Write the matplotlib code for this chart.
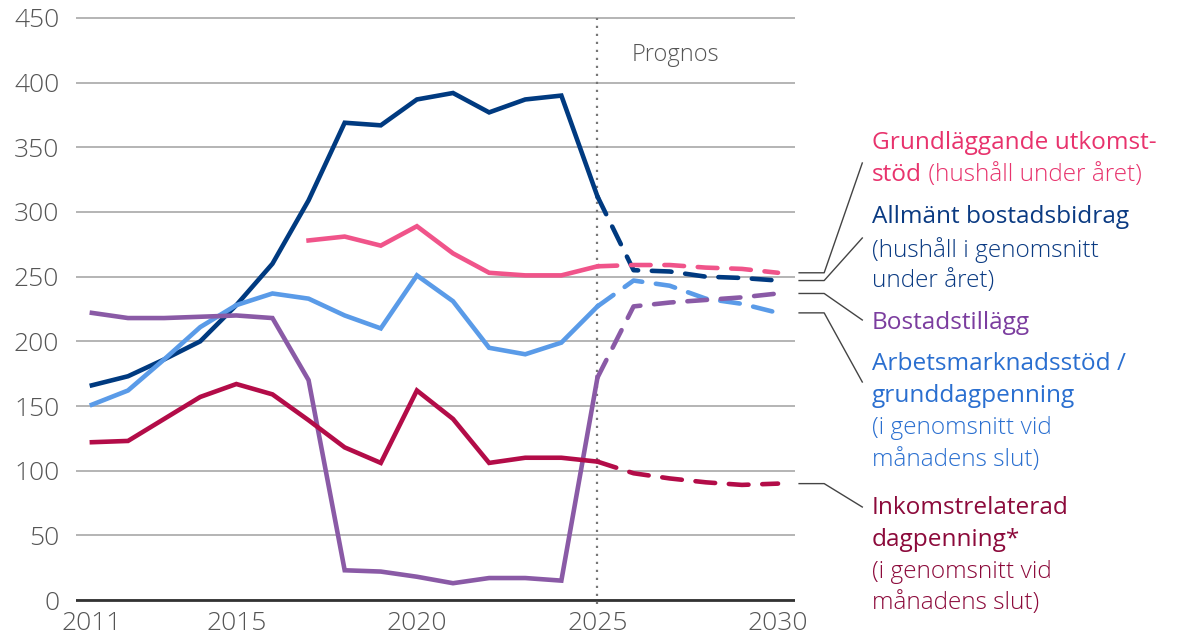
import matplotlib
matplotlib.use('Agg')
import matplotlib.pyplot as plt

# Data (thousands)
years = list(range(2011, 2031))
bostadsbidrag = [166, 173, 186, 200, 228, 260, 309, 369, 367, 387, 392, 377, 387, 390, 312, 255, 254, 250, 249, 247]
utkomst_years = list(range(2017, 2031))
utkomststod = [278, 281, 274, 289, 268, 253, 251, 251, 258, 259, 259, 257, 256, 253]
arbetsmarknad = [151, 162, 186, 211, 228, 237, 233, 220, 210, 251, 231, 195, 190, 199, 227, 247, 243, 233, 229, 222]
bostadstillagg = [222, 218, 218, 219, 220, 218, 170, 23, 22, 18, 13, 17, 17, 15, 172, 227, 230, 232, 234, 237]
inkomstrelaterad = [122, 123, 140, 157, 167, 159, 139, 118, 106, 162, 140, 106, 110, 110, 107, 98, 94, 91, 89, 90]
prognos_year = 2025
x_ticks = [2011, 2015, 2020, 2025, 2030]
y_ticks = list(range(0, 451, 50))

FONT = 'Open Sans'
GREY = '#555555'

fig = plt.figure(figsize=(11.84, 6.4), dpi=100)
ax = fig.add_axes([76 / 1184, 1 - 603.9 / 640, (795 - 76) / 1184, (603.9 - 14.1) / 640])
ax.set_xlim(2010.56, 2030.47)
ax.set_ylim(-3, 453)

for s in ax.spines.values():
    s.set_visible(False)

ax.set_yticks(y_ticks)
ax.set_xticks(x_ticks)
ax.tick_params(length=0, labelsize=19, labelcolor=GREY)
ax.tick_params(axis='y', pad=12)
ax.tick_params(axis='x', pad=5)
for lab in ax.get_xticklabels() + ax.get_yticklabels():
    lab.set_fontfamily(FONT)
    lab.set_fontweight('light')
ax.grid(axis='y', color='#a0a0a0', lw=1.1)
ax.set_axisbelow(True)
ax.axhline(0, color='#333333', lw=2)

# Prognos marker
ax.axvline(prognos_year, ymin=0, ymax=(450 + 3) / 456, color='#777777', lw=1.6, ls=(0, (1, 2.6)))
ax.text(2027.17, 421, 'Prognos', ha='center', va='center', fontsize=17,
        color=GREY, family=FONT, fontweight='light')

series = [
    (years, bostadsbidrag, '#003a80'),
    (utkomst_years, utkomststod, '#f0548a'),
    (years, arbetsmarknad, '#5a9be8'),
    (years, bostadstillagg, '#8a5aa6'),
    (years, inkomstrelaterad, '#b30c48'),
]
lw = 3.3
for xs, ys, c in series:
    hist_x = [x for x in xs if x <= prognos_year]
    hist_y = [y for x, y in zip(xs, ys) if x <= prognos_year]
    fc_x = [x for x in xs if x >= prognos_year]
    fc_y = [y for x, y in zip(xs, ys) if x >= prognos_year]
    ax.plot(hist_x, hist_y, color=c, lw=lw, solid_joinstyle='miter', zorder=3)
    ax.plot(fc_x, fc_y, color=c, lw=lw, dashes=(4.3, 3.0), dash_capstyle='round', zorder=3)

# Leader lines: start at line end, go right, then angle to the label
def px_to_y(py):
    return (600 - py) / 1.2933

def px_to_x(px):
    return 2011 + (px - 92) / 36.0

leaders = [
    (utkomststod[-1], 163),
    (bostadsbidrag[-1], 238),
    (bostadstillagg[-1], 320),
    (arbetsmarknad[-1], 382),
    (inkomstrelaterad[-1], 507),
]
for v, ty in leaders:
    ax.plot([px_to_x(797), px_to_x(822), px_to_x(860)], [v, v, px_to_y(ty)],
            color='#444444', lw=1, clip_on=False, zorder=2)

# Labels
TX = 872 / 1184

def label(py, s, color, weight='normal', x=TX):
    return fig.text(x, 1 - py / 640, s, color=color, fontsize=17.6, family=FONT,
                    fontweight=weight, va='center', ha='left')

pink_t = '#e8336d'
label(143, 'Grundläggande utkomst-', pink_t)
t = label(175, 'stöd', pink_t)
fig.canvas.draw()
bb = t.get_window_extent()
label(175, ' (hushåll under året)', pink_t, 'light', x=bb.x1 / 1184)

blue_t = '#0a3a82'
label(217, 'Allmänt bostadsbidrag', blue_t)
label(250, '(hushåll i genomsnitt', blue_t, 'light')
label(281, 'under året)', blue_t, 'light')

label(323, 'Bostadstillägg', '#7b3d9f')

lb_t = '#2a6fd0'
label(364, 'Arbetsmarknadsstöd /', lb_t)
label(396, 'grunddagpenning', lb_t)
label(428, '(i genomsnitt vid', lb_t, 'light')
label(460, 'månadens slut)', lb_t, 'light')

red_t = '#8c0a3b'
label(508, 'Inkomstrelaterad', red_t)
label(540, 'dagpenning*', red_t)
label(572, '(i genomsnitt vid', red_t, 'light')
label(603, 'månadens slut)', red_t, 'light')

fig.savefig('out.png', dpi=100)
